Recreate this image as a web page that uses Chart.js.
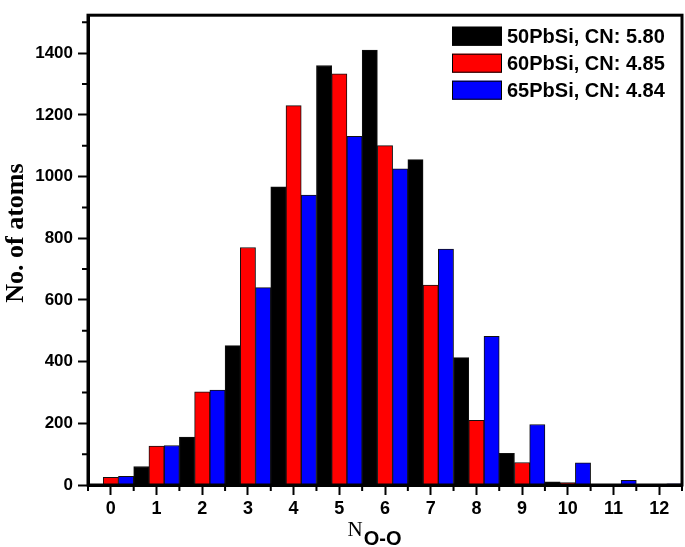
<!DOCTYPE html>
<html>
<head>
<meta charset="utf-8">
<script src="https://cdn.jsdelivr.net/npm/chart.js@4/dist/chart.umd.min.js"></script>
<style>
  html, body { margin: 0; padding: 0; background: #fff; }
  #wrap { width: 685px; height: 547px; }
</style>
</head>
<body>
<div id="wrap"><canvas id="chart" width="685" height="547"></canvas></div>
<script>
// N(O-O) coordination histogram

const categories = ['0', '1', '2', '3', '4', '5', '6', '7', '8', '9', '10', '11', '12'];
const pb50 = [0, 60, 155, 452, 967, 1360, 1410, 1055, 413, 103, 10, 0, 0];
const pb60 = [25, 126, 302, 770, 1230, 1333, 1100, 648, 210, 73, 8, 0, 0];
const pb65 = [28, 128, 308, 640, 940, 1130, 1025, 765, 482, 196, 72, 15, 4];
const seriesNames = ['50PbSi, CN: 5.80', '60PbSi, CN: 4.85', '65PbSi, CN: 4.84'];
const seriesColors = ['#000000', '#ff0000', '#0000ff'];
const yTicks = [0, 200, 400, 600, 800, 1000, 1200, 1400];

const SANS = 'Liberation Sans, Arial, sans-serif';
const SERIF = 'Liberation Serif, Times New Roman, serif';

Chart.defaults.color = '#000';

// minor ticks, frame, axis titles and the legend box
const decorations = {
    id: 'decorations',
    afterDraw(chart) {
        const { ctx, chartArea: a, scales: { x, y } } = chart;
        ctx.save();
        ctx.strokeStyle = '#000';
        ctx.fillStyle = '#000';

        ctx.lineWidth = 2;
        ctx.beginPath();
        for (let i = -0.5; i <= categories.length - 0.5; i++) {
            const px = x.getPixelForValue(i);
            ctx.moveTo(px, a.bottom);
            ctx.lineTo(px, a.bottom + 6);
        }
        for (let v = 100; v <= y.max; v += 200) {
            const py = y.getPixelForValue(v);
            ctx.moveTo(a.left, py);
            ctx.lineTo(a.left - 6, py);
        }
        ctx.stroke();

        ctx.lineWidth = 3;
        ctx.strokeRect(a.left, a.top, a.width, a.height);

        // y title
        ctx.save();
        ctx.translate(16, (a.top + a.bottom) / 2 - 17);
        ctx.rotate(-Math.PI / 2);
        ctx.font = 'bold 26px ' + SERIF;
        ctx.textAlign = 'center';
        ctx.textBaseline = 'middle';
        ctx.fillText('No. of atoms', 0, 0);
        ctx.restore();

        // x title: N with subscript O-O
        ctx.textAlign = 'left';
        ctx.textBaseline = 'alphabetic';
        ctx.font = '21px ' + SERIF;
        const wN = ctx.measureText('N').width;
        ctx.font = 'bold 20px ' + SANS;
        const wSub = ctx.measureText('O-O').width;
        const x0 = (a.left + a.right) / 2 - 11 - (wN + wSub) / 2;
        ctx.font = '21px ' + SERIF;
        ctx.fillText('N', x0, 536);
        ctx.font = 'bold 20px ' + SANS;
        ctx.fillText('O-O', x0 + wN + 1, 545);

        // legend
        const boxLeft = a.right - 230;
        ctx.font = 'bold 20px ' + SANS;
        ctx.textBaseline = 'middle';
        ctx.lineWidth = 1;
        chart.data.datasets.forEach((ds, i) => {
            const cy = a.top + 21 + i * 27;
            ctx.fillStyle = ds.backgroundColor;
            ctx.fillRect(boxLeft, cy - 9.5, 50, 19);
            ctx.strokeRect(boxLeft + 0.5, cy - 9, 49, 18);
            ctx.fillStyle = '#000';
            ctx.fillText(ds.label, boxLeft + 55, cy + 1);
        });

        ctx.restore();
    }
};

const datasets = [pb50, pb60, pb65].map((values, i) => ({
    label: seriesNames[i],
    data: values,
    backgroundColor: seriesColors[i],
    borderColor: '#111',
    borderWidth: 1,
    categoryPercentage: 1,
    barPercentage: 1
}));

new Chart(document.getElementById('chart').getContext('2d'), {
    type: 'bar',
    data: { labels: categories, datasets: datasets },
    options: {
        responsive: false,
        animation: false,
        devicePixelRatio: 1,
        layout: { padding: { top: 2, right: 3, left: 0, bottom: 0 } },
        plugins: {
            legend: { display: false },
            tooltip: { enabled: false }
        },
        scales: {
            x: {
                offset: true,
                grid: {
                    offset: false,
                    drawOnChartArea: false,
                    tickLength: 10,
                    tickWidth: 2,
                    tickColor: '#000'
                },
                border: { color: '#000', width: 3 },
                ticks: {
                    padding: 3,
                    maxRotation: 0,
                    font: { family: SANS, size: 18, weight: 'bold' }
                },
                afterFit(scale) { scale.height = 62; }
            },
            y: {
                min: 0,
                max: 1523,
                grid: {
                    drawOnChartArea: false,
                    tickLength: 10,
                    tickWidth: 2,
                    tickColor: '#000'
                },
                border: { color: '#000', width: 3 },
                ticks: {
                    padding: 5,
                    font: { family: SANS, size: 17, weight: 'bold' },
                    callback: v => String(v)
                },
                afterBuildTicks(scale) {
                    scale.ticks = yTicks.map(v => ({ value: v }));
                },
                afterFit(scale) { scale.width = 88; }
            }
        }
    },
    plugins: [decorations]
});
</script>
</body>
</html>
